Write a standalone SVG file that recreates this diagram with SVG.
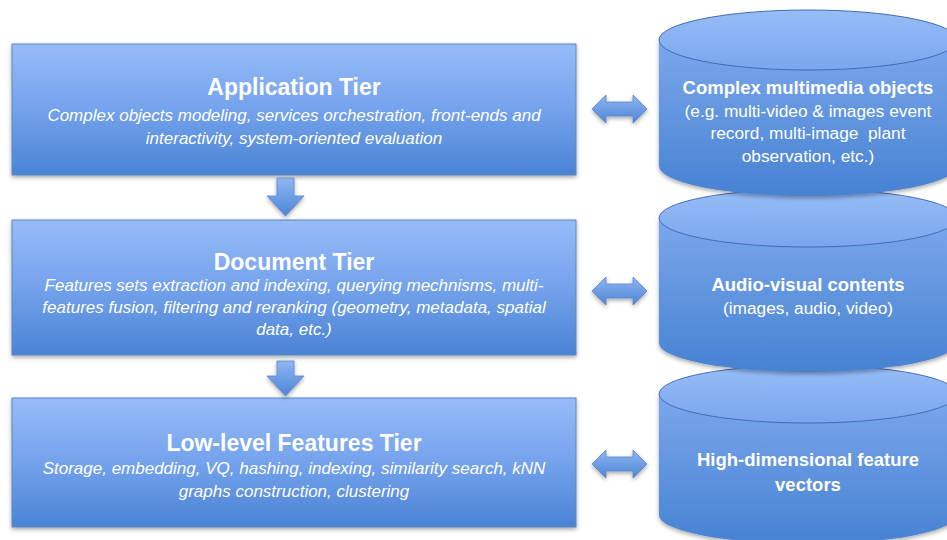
<svg xmlns="http://www.w3.org/2000/svg" width="947" height="540" viewBox="0 0 947 540">
  <defs>
    <linearGradient id="boxGrad" x1="0" y1="0" x2="0" y2="1">
      <stop offset="0" stop-color="#97bcf7"/>
      <stop offset="0.5" stop-color="#74a2ec"/>
      <stop offset="1" stop-color="#4a83d4"/>
    </linearGradient>
    <linearGradient id="bodyGrad" x1="0" y1="0" x2="0" y2="1">
      <stop offset="0" stop-color="#7ba7ec"/>
      <stop offset="1" stop-color="#4782d2"/>
    </linearGradient>
    <linearGradient id="topGrad" x1="0" y1="0" x2="0" y2="1">
      <stop offset="0" stop-color="#97bdf8"/>
      <stop offset="1" stop-color="#7aa6ec"/>
    </linearGradient>
    <linearGradient id="arrowGrad" x1="0" y1="0" x2="0" y2="1">
      <stop offset="0" stop-color="#8fb6f3"/>
      <stop offset="1" stop-color="#4c85d5"/>
    </linearGradient>
    <filter id="shadow" x="-5%" y="-10%" width="110%" height="125%">
      <feDropShadow dx="0" dy="2" stdDeviation="2" flood-color="#000" flood-opacity="0.35"/>
    </filter>
  </defs>
  <style>
    .box { fill: url(#boxGrad); stroke: #5b86c6; stroke-width: 1; filter: url(#shadow); }
    .body { fill: url(#bodyGrad); stroke: none; filter: url(#shadow); }
    .top { fill: url(#topGrad); stroke: #3f6db4; stroke-width: 1; }
    .arrow { fill: url(#arrowGrad); stroke: #5a86c8; stroke-width: 0.8; filter: url(#shadow); }
    .title { font-family: "Liberation Sans", Arial, sans-serif; font-weight: bold; font-size: 23px; fill: #ffffff; text-anchor: middle; }
    .desc { font-family: "Liberation Sans", Arial, sans-serif; font-style: italic; font-size: 17px; fill: #ffffff; text-anchor: middle; }
    .ctitle { font-family: "Liberation Sans", Arial, sans-serif; font-weight: bold; font-size: 18.5px; fill: #ffffff; text-anchor: middle; }
    .cdesc { font-family: "Liberation Sans", Arial, sans-serif; font-size: 17.3px; fill: #ffffff; text-anchor: middle; }
  </style>

  <g id="cyl-features">
    <path class="body" d="M659,394 L659,515 A149,29 0 0 0 957,515 L957,394 Z"/>
    <ellipse class="top" cx="808" cy="394" rx="149" ry="29"/>
    <text class="ctitle" x="808" y="466">High-dimensional feature</text>
    <text class="ctitle" x="808" y="491">vectors</text>
  </g>
  <g id="cyl-av">
    <path class="body" d="M659,218 L659,343 A149,29 0 0 0 957,343 L957,218 Z"/>
    <ellipse class="top" cx="808" cy="218" rx="149" ry="29"/>
    <text class="ctitle" x="808" y="291">Audio-visual contents</text>
    <text class="cdesc" x="808" y="314">(images, audio, video)</text>
  </g>
  <g id="cyl-complex">
    <path class="body" d="M659,40 L659,166 A149,30 0 0 0 957,166 L957,40 Z"/>
    <ellipse class="top" cx="808" cy="40" rx="149" ry="30"/>
    <text class="ctitle" x="808" y="94">Complex multimedia objects</text>
    <text class="cdesc" x="808" y="117">(e.g. multi-video &amp; images event</text>
    <text class="cdesc" x="808" y="139" xml:space="preserve">record, multi-image  plant</text>
    <text class="cdesc" x="808" y="162">observation, etc.)</text>
  </g>

  <g id="app-tier">
    <rect class="box" x="12" y="44" width="564" height="131"/>
    <text class="title" x="294" y="95">Application Tier</text>
    <text class="desc" x="294" y="121">Complex objects modeling, services orchestration, front-ends and</text>
    <text class="desc" x="294" y="144">interactivity, system-oriented evaluation</text>
  </g>
  <g id="doc-tier">
    <rect class="box" x="12" y="220" width="564" height="135"/>
    <text class="title" x="294" y="270">Document Tier</text>
    <text class="desc" x="294" y="291">Features sets extraction and indexing, querying mechnisms, multi-</text>
    <text class="desc" x="294" y="313">features fusion, filtering and reranking (geometry, metadata, spatial</text>
    <text class="desc" x="294" y="335">data, etc.)</text>
  </g>
  <g id="low-tier">
    <rect class="box" x="12" y="398" width="564" height="129"/>
    <text class="title" x="294" y="451">Low-level Features Tier</text>
    <text class="desc" x="294" y="474">Storage, embedding, VQ, hashing, indexing, similarity search, kNN</text>
    <text class="desc" x="294" y="497">graphs construction, clustering</text>
  </g>

  <g id="connectors">
    <path class="arrow" d="M277,178 L294,178 L294,196 L304,196 L285.5,216 L267,196 L277,196 Z"/>
    <path class="arrow" d="M277,361 L294,361 L294,376 L304,376 L285.5,396 L267,376 L277,376 Z"/>
    <path class="arrow" d="M592,109 L606,95 L606,102 L633,102 L633,95 L647,109 L633,123 L633,116 L606,116 L606,123 Z"/>
    <path class="arrow" d="M592,291 L606,277 L606,284 L633,284 L633,277 L647,291 L633,305 L633,298 L606,298 L606,305 Z"/>
    <path class="arrow" d="M592,464 L606,450 L606,457 L633,457 L633,450 L647,464 L633,478 L633,471 L606,471 L606,478 Z"/>
  </g>
</svg>
